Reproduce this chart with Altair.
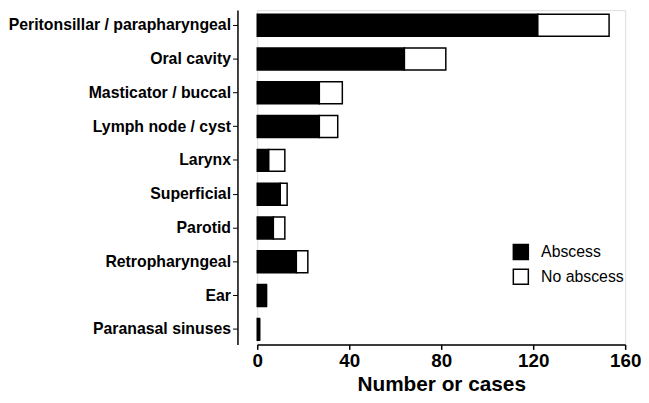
import altair as alt
import pandas as pd

sites = ["Peritonsillar / parapharyngeal", "Oral cavity", "Masticator / buccal",
         "Lymph node / cyst", "Larynx", "Superficial", "Parotid",
         "Retropharyngeal", "Ear", "Paranasal sinuses"]
abscess = [122, 64, 27, 27, 5, 10, 7, 17, 4, 1]
no_abscess = [31, 18, 10, 8, 7, 3, 5, 5, 0, 0]
groups = ["Abscess", "No abscess"]
x_ticks = [0, 40, 80, 120, 160]

rows = []
for s, a, n in zip(sites, abscess, no_abscess):
    rows.append({"site": s, "group": groups[0], "value": a, "ord": 0})
    rows.append({"site": s, "group": groups[1], "value": n, "ord": 1})
df = pd.DataFrame(rows)

FONT = "Liberation Sans"

chart = alt.Chart(df).mark_bar(stroke="black", strokeWidth=1.5).encode(
    y=alt.Y("site:N", sort=sites,
            scale=alt.Scale(paddingInner=0.35, paddingOuter=0.12),
            axis=alt.Axis(title=None, offset=20, labelFontSize=16, labelFontWeight="bold",
                          labelColor="black", domainColor="black", domainWidth=1.5,
                          tickColor="black", tickSize=5, tickWidth=1, labelPadding=2,
                          labelLimit=0, grid=False)),
    x=alt.X("value:Q", stack="zero",
            scale=alt.Scale(domain=[0, 160], nice=False),
            axis=alt.Axis(title="Number or cases", values=x_ticks, labelFontSize=19,
                          labelFontWeight="bold", labelColor="black",
                          titleFontSize=21, titleFontWeight="bold", titleColor="black",
                          domainColor="black", domainWidth=1.5, tickColor="black",
                          tickSize=5, tickWidth=1.5, labelPadding=2, titlePadding=4,
                          grid=False, labelFlush=False)),
    color=alt.Color("group:N", scale=alt.Scale(domain=groups, range=["black", "white"]),
                    legend=alt.Legend(title=None, orient="none", legendX=258, legendY=236,
                                      symbolType="square", symbolSize=230,
                                      symbolStrokeColor="black", symbolStrokeWidth=1.5,
                                      labelFontSize=16, labelColor="black",
                                      rowPadding=2, labelOffset=12)),
    order=alt.Order("ord:Q"),
).properties(
    width=372, height=338, padding={"left": 0, "top": 0, "right": 0, "bottom": 0}
).configure_view(stroke=None).configure(font=FONT)

chart.save("out.html", embed_options={"renderer": "svg", "actions": False})
